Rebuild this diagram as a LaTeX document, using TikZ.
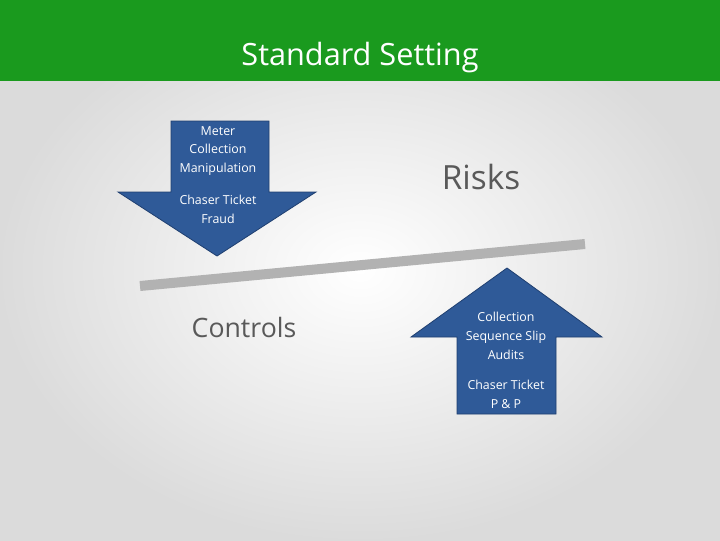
\documentclass[tikz,border=0pt]{standalone}
\usepackage{fontspec}
\setmainfont{Open Sans}
\definecolor{hdr}{HTML}{1A9A1E}
\definecolor{arr}{HTML}{2F5A98}
\definecolor{arrb}{HTML}{1F3F70}
\definecolor{txt}{HTML}{595959}
\tikzset{
  arrowshape/.style={fill=arr,draw=arrb,line width=0.6pt},
  wtxt/.style={text=white,font=\fontsize{9.3}{14.2}\selectfont,align=center,inner sep=0pt},
  big/.style={text=txt,inner sep=0pt}
}
\begin{document}
\begin{tikzpicture}[x=0.75pt,y=-0.75pt]
\useasboundingbox (0,0) rectangle (720,540);
\shade[inner color=white,outer color=black!14] (0,0) rectangle (720,540);
\fill[hdr] (0,0) rectangle (720,81);
\node[text=white,font=\fontsize{23}{27}\selectfont,inner sep=0pt] (title) at (360,58) {Standard Setting};
% down arrow
\draw[arrowshape] (171,121) -- (269,121) -- (269,192) -- (316,192) -- (217,256) -- (118,192) -- (171,192) -- cycle;
\node[wtxt] (t1) at (218,151) {Meter\\Collection\\Manipulation};
\node[wtxt] (t2) at (218,209.5) {Chaser Ticket\\Fraud};
% up arrow
\draw[arrowshape] (507,268) -- (602,337) -- (556,337) -- (556,414) -- (457,414) -- (457,337) -- (411,337) -- cycle;
\node[wtxt] (t3) at (506,336) {Collection\\Sequence Slip\\Audits};
\node[wtxt] (t4) at (506,394.5) {Chaser Ticket\\P \& P};
% beam
\coordinate (b1) at (140,286);
\coordinate (b2) at (585,244);
\draw[line width=7.5pt,black!30] (b1) -- (b2);
\node[big,font=\fontsize{25}{30}\selectfont] (risks) at (481,177) {Risks};
\node[big,font=\fontsize{20}{24}\selectfont] (controls) at (244,327) {Controls};
\end{tikzpicture}
\end{document}
